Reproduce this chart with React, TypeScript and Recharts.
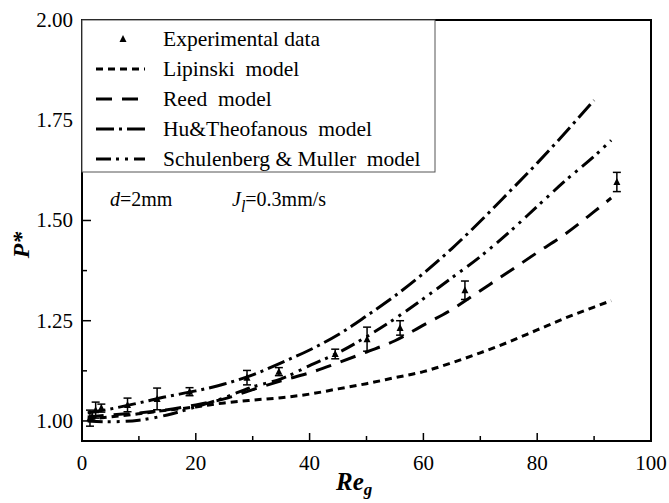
import React from "react";
import { ComposedChart, Line, Scatter, ErrorBar, XAxis, YAxis, ReferenceArea } from "recharts";

// experimental points (Re_g, P*, +/- error)
const expRe = [1.4, 1.8, 2.4, 3.4, 8.0, 13.2, 18.9, 29.0, 34.6, 44.5, 50.1, 55.9, 67.3, 94.0];
const expP = [1.007, 1.011, 1.027, 1.032, 1.04, 1.055, 1.073, 1.108, 1.123, 1.167, 1.204, 1.232, 1.326, 1.596];
const expErr = [0.02, 0.012, 0.02, 0.01, 0.017, 0.027, 0.01, 0.018, 0.01, 0.012, 0.03, 0.018, 0.023, 0.024];

// model curves
const lipRe = [1, 5, 10, 15, 20, 25, 30, 35, 40, 45, 50, 55, 60, 65, 70, 75, 80, 85, 90, 93];
const lipP = [1.005, 1.01, 1.018, 1.027, 1.035, 1.045, 1.052, 1.058, 1.067, 1.08, 1.093, 1.108, 1.123, 1.145, 1.17, 1.197, 1.227, 1.257, 1.284, 1.3];

const reedRe = [1, 5, 10, 15, 20, 25, 30, 35, 40, 45, 50, 55, 60, 65, 70, 75, 80, 85, 90, 93];
const reedP = [1.01, 1.015, 1.02, 1.028, 1.04, 1.055, 1.078, 1.1, 1.12, 1.145, 1.172, 1.2, 1.239, 1.278, 1.325, 1.372, 1.42, 1.467, 1.522, 1.556];

const huRe = [1, 5, 10, 15, 20, 25, 30, 35, 40, 45, 50, 55, 60, 65, 70, 75, 80, 85, 90];
const huP = [1.02, 1.03, 1.045, 1.061, 1.075, 1.092, 1.115, 1.145, 1.177, 1.215, 1.262, 1.312, 1.368, 1.43, 1.498, 1.57, 1.643, 1.72, 1.8];

const schRe = [1, 5, 10, 15, 20, 25, 30, 35, 40, 45, 50, 55, 60, 65, 70, 75, 80, 85, 90, 93];
const schP = [1.0, 0.998, 1.002, 1.015, 1.035, 1.058, 1.085, 1.105, 1.138, 1.17, 1.21, 1.255, 1.305, 1.357, 1.41, 1.47, 1.535, 1.6, 1.66, 1.7];

const xTicks = [0, 10, 20, 30, 40, 50, 60, 70, 80, 90, 100];
const yTicks = [1, 1.125, 1.25, 1.375, 1.5, 1.625, 1.75, 1.875, 2];

const legendItems = [
  { name: "Experimental data", dash: "" },
  { name: "Lipinski  model", dash: "7 5" },
  { name: "Reed  model", dash: "16 10" },
  { name: "Hu&Theofanous  model", dash: "18 5 3 5" },
  { name: "Schulenberg & Muller  model", dash: "15 5 3 6 3 6" },
];

const toPts = (xs: number[], ys: number[]) => xs.map((x, i) => ({ x, y: ys[i] }));
const expData = expRe.map((x, i) => ({ x, y: expP[i], err: expErr[i] }));

const FONT = "'Liberation Serif', 'Times New Roman', serif";

function XTick(props: any) {
  const { x, y, payload } = props;
  const v = payload.value;
  const major = v % 20 === 0;
  return (
    <g>
      <line x1={x} y1={y} x2={x} y2={y - (major ? 8 : 5)} stroke="#000" strokeWidth={1.5} />
      {major && (
        <text x={x} y={y + 29} textAnchor="middle" fontSize={21} fontFamily={FONT} fill="#000">
          {v}
        </text>
      )}
    </g>
  );
}

function YTick(props: any) {
  const { x, y, payload } = props;
  const v = payload.value;
  const major = Math.abs(v * 4 - Math.round(v * 4)) < 1e-6;
  return (
    <g>
      <line x1={x} y1={y} x2={x + (major ? 9 : 5)} y2={y} stroke="#000" strokeWidth={1.5} />
      {major && (
        <text x={x - 9} y={y + 7} textAnchor="end" fontSize={21} fontFamily={FONT} fill="#000">
          {v.toFixed(2)}
        </text>
      )}
    </g>
  );
}

function Tri(props: any) {
  const { cx, cy } = props;
  return <polygon points={`${cx},${cy - 4} ${cx - 3.5},${cy + 3} ${cx + 3.5},${cy + 3}`} fill="#000" />;
}

export default function App() {
  return (
    <div style={{ position: "absolute", left: 0, top: 0, width: 669, height: 503, background: "#fff" }}>
      <ComposedChart width={669} height={503} margin={{ top: 20, right: 18, left: 0, bottom: 0 }}>
        <XAxis
          dataKey="x"
          type="number"
          domain={[0, 100]}
          ticks={xTicks}
          interval={0}
          axisLine={false}
          tickLine={false}
          tickSize={0}
          tickMargin={0}
          height={62}
          tick={<XTick />}
        />
        <YAxis
          type="number"
          domain={[0.95, 2]}
          ticks={yTicks}
          interval={0}
          axisLine={false}
          tickLine={false}
          tickSize={0}
          tickMargin={0}
          width={82}
          tick={<YTick />}
        />
        <Line data={toPts(lipRe, lipP)} dataKey="y" type="monotone" stroke="#000" strokeWidth={3} strokeDasharray="7 5" dot={false} isAnimationActive={false} />
        <Line data={toPts(reedRe, reedP)} dataKey="y" type="monotone" stroke="#000" strokeWidth={3} strokeDasharray="16 10" dot={false} isAnimationActive={false} />
        <Line data={toPts(huRe, huP)} dataKey="y" type="monotone" stroke="#000" strokeWidth={3} strokeDasharray="18 5 3 5" dot={false} isAnimationActive={false} />
        <Line data={toPts(schRe, schP)} dataKey="y" type="monotone" stroke="#000" strokeWidth={3} strokeDasharray="15 5 3 6 3 6" dot={false} isAnimationActive={false} />
        <Scatter data={expData} dataKey="y" shape={<Tri />} isAnimationActive={false}>
          <ErrorBar dataKey="err" direction="y" width={4} stroke="#000" strokeWidth={1.5} isAnimationActive={false} />
        </Scatter>
        <ReferenceArea x1={0} x2={100} y1={0.95} y2={2} fill="none" stroke="#000" strokeWidth={2} ifOverflow="visible" />
      </ComposedChart>

      <svg width={669} height={503} style={{ position: "absolute", left: 0, top: 0, pointerEvents: "none" }}>
        {/* legend box */}
        <rect x={82} y={20} width={353} height={152} fill="#fff" stroke="#555" strokeWidth={1} />
        {legendItems.map((it, i) => {
          const cy = 39 + i * 30;
          return (
            <g key={it.name}>
              {i === 0 ? (
                <polygon points={`123,${cy - 4} 119.5,${cy + 3} 126.5,${cy + 3}`} fill="#000" />
              ) : (
                <line x1={96} y1={cy} x2={145} y2={cy} stroke="#000" strokeWidth={3} strokeDasharray={it.dash} />
              )}
              <text x={163} y={cy + 7} fontSize={21.5} fontFamily={FONT} fill="#000" style={{ whiteSpace: "pre" }}>
                {it.name}
              </text>
            </g>
          );
        })}
        {/* annotation */}
        <text x={110} y={206} fontSize={20} fontFamily={FONT} fill="#000">
          <tspan fontStyle="italic">d</tspan>
          <tspan>=2mm</tspan>
        </text>
        <text x={232} y={206} fontSize={20} fontFamily={FONT} fill="#000">
          <tspan fontStyle="italic">J</tspan>
          <tspan fontStyle="italic" fontSize={16} dy={6}>l</tspan>
          <tspan dy={-6}>=0.3mm/s</tspan>
        </text>
        {/* axis titles */}
        <text
          x={0}
          y={0}
          transform="translate(29,245) rotate(-90)"
          textAnchor="middle"
          fontSize={24}
          fontWeight="bold"
          fontStyle="italic"
          fontFamily={FONT}
          fill="#000"
        >
          P*
        </text>
        <text x={336} y={490} fontSize={25} fontWeight="bold" fontStyle="italic" fontFamily={FONT} fill="#000">
          Re
          <tspan fontSize={17} dy={5}>g</tspan>
        </text>
      </svg>
    </div>
  );
}
